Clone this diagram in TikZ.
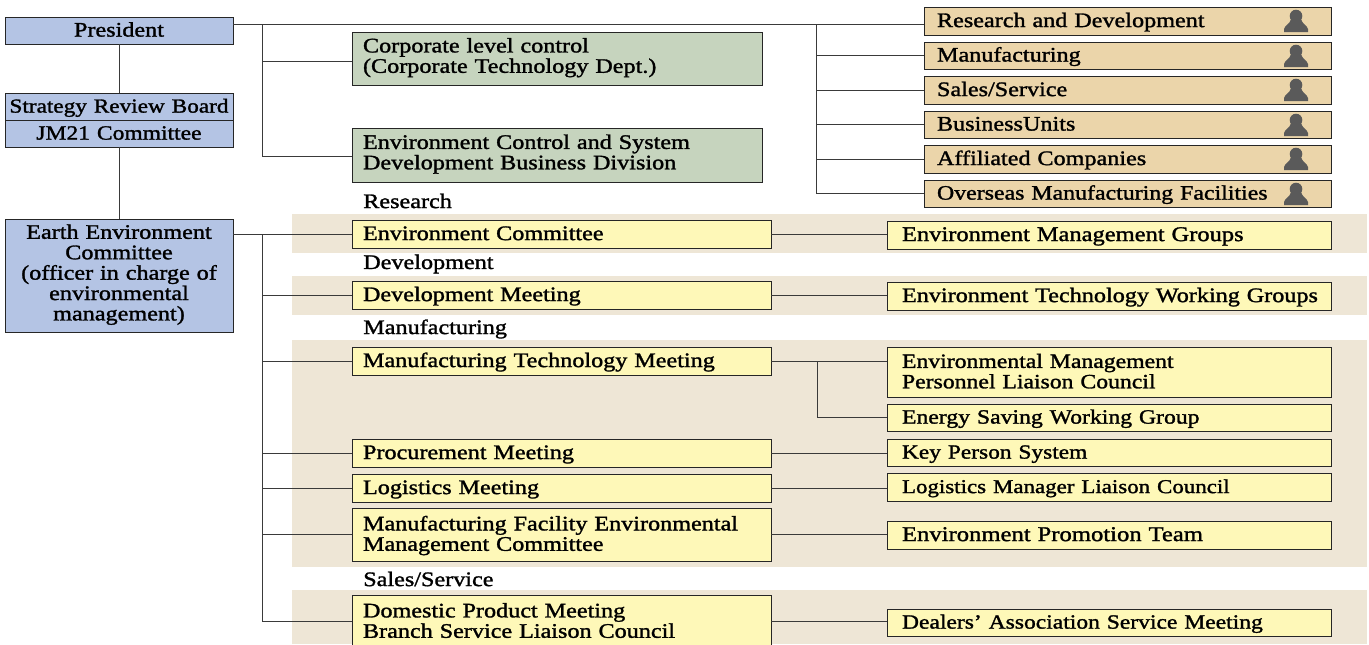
\documentclass[tikz,border=0pt]{standalone}
\usepackage{fontspec}
\setmainfont[FakeStretch=1.17,FakeBold=1.4]{Liberation Serif}
\definecolor{lineC}{HTML}{3A3A3A}
\definecolor{blueC}{HTML}{B4C4E4}
\definecolor{greenC}{HTML}{C6D4BE}
\definecolor{orangeC}{HTML}{EBD5AA}
\definecolor{yellowC}{HTML}{FEF8B8}
\definecolor{bandC}{HTML}{EEE6D6}
\definecolor{personC}{HTML}{5A5A5A}
\tikzset{
 base/.style={draw=black!85,line width=0.75pt,outer sep=0pt,inner sep=0pt,font=\fontsize{15.5}{15.3}\selectfont},
 bluebox/.style={base,fill=blueC,align=center},
 greenbox/.style={base,fill=greenC,align=left},
 orangebox/.style={base,fill=orangeC,align=left},
 yellowbox/.style={base,fill=yellowC,align=left},
 lab/.style={anchor=west,inner sep=0pt,font=\fontsize{15.5}{15.3}\selectfont},
 wire/.style={draw=lineC,line width=0.75pt},
 person/.style={fill=personC,draw=none}
}
\newcommand\tdy{0pt}
\newcommand\lft{8.25pt}
\newcommand\nl{\\\hspace*{\lft}}
\newcommand\tstrut{\rule{0pt}{\dimexpr 0.7\baselineskip+2\dimexpr\tdy\relax\relax}}
\newcommand\tight[2]{{\fontsize{#1}{15.3}\selectfont #2}}
% style, name, x1, y1, x2, y2, text
\newcommand\bx[7]{%
 \pgfmathsetmacro\wpt{(#5-#3)*0.75}%
 \pgfmathsetmacro\hpt{(#6-#4)*0.75}%
 \node[#1,minimum width=\wpt pt,minimum height=\hpt pt,text width=\wpt pt] (#2) at ({(#3+#5)/2},{(#4+#6)/2}) {\hspace*{\lft}\tstrut #7\strut};}
\newcommand\cbx[7]{%
 \pgfmathsetmacro\wpt{(#5-#3)*0.75}%
 \pgfmathsetmacro\hpt{(#6-#4)*0.75}%
 \node[#1,minimum width=\wpt pt,minimum height=\hpt pt,text width=\wpt pt] (#2) at ({(#3+#5)/2},{(#4+#6)/2}) {\tstrut #7\strut};}
\newcommand\personicon[2]{%
 \fill[person] (#1,#2+9) circle [radius=6.3];
 \fill[person] (#1-12,#2+25) -- (#1-12,#2+22) .. controls (#1-11,#2+18) and (#1-6,#2+17) .. (#1-5,#2+12) -- (#1+5,#2+12) .. controls (#1+6,#2+17) and (#1+11,#2+18) .. (#1+12,#2+22) -- (#1+12,#2+25) -- cycle;}
\begin{document}
\begin{tikzpicture}[x=0.75pt,y=-0.75pt]
\useasboundingbox (0,0) rectangle (1369,644);
\clip (0,0) rectangle (1369,644);
% bands
\fill[bandC] (292,214) rectangle (1367,253);
\fill[bandC] (292,276) rectangle (1367,315);
\fill[bandC] (292,340) rectangle (1367,567);
\fill[bandC] (292,590) rectangle (1367,644);
% left column
\renewcommand\tdy{1.5pt}
\cbx{bluebox}{pres}{5}{17}{233}{44}{President}
\cbx{bluebox}{srb}{5}{93}{233}{120}{\tight{14.9}{Strategy Review Board}}
\cbx{bluebox}{jm}{5}{120}{233}{147}{\tight{15.1}{JM21 Committee}}
\renewcommand\tdy{0pt}
\cbx{bluebox}{earth}{5}{219}{233}{332}{Earth Environment\\Committee\\(officer in charge of\\environmental\\management)}
% green
\bx{greenbox}{g1}{352}{32}{762}{85}{Corporate level control\nl(Corporate Technology Dept.)}
\bx{greenbox}{g2}{352}{128}{762}{182}{Environment Control and System\nl Development Business Division}
% orange
\renewcommand\tdy{1.5pt}
\renewcommand\lft{9.75pt}
\bx{orangebox}{o1}{924}{7}{1331}{35}{Research and Development}
\bx{orangebox}{o2}{924}{42}{1331}{69}{Manufacturing}
\bx{orangebox}{o3}{924}{76}{1331}{104}{Sales/Service}
\bx{orangebox}{o4}{924}{111}{1331}{138}{BusinessUnits}
\bx{orangebox}{o5}{924}{145}{1331}{173}{Affiliated Companies}
\bx{orangebox}{o6}{924}{180}{1331}{207}{\tight{15.3}{Overseas Manufacturing Facilities}}
\foreach \yy in {7,42,76,111,145,180} {\personicon{1296}{\yy}}
% section labels
\node[lab] (lr) at (363,201) {Research};
\node[lab] (ld) at (363,264) {Development};
\node[lab] (lm) at (363,329) {Manufacturing};
\node[lab] (ls) at (363,579) {Sales/Service};
% yellow middle
\renewcommand\lft{8.25pt}
\bx{yellowbox}{y1}{352}{220}{771}{248}{Environment Committee}
\bx{yellowbox}{y2}{352}{281}{771}{309}{Development Meeting}
\bx{yellowbox}{y3}{352}{347}{771}{375}{Manufacturing Technology Meeting}
\bx{yellowbox}{y4}{352}{439}{771}{467}{Procurement Meeting}
\bx{yellowbox}{y5}{352}{474}{771}{502}{Logistics Meeting}
\bx{yellowbox}{y6}{352}{508}{771}{561}{Manufacturing Facility Environmental\nl Management Committee}
\bx{yellowbox}{y7}{352}{595}{771}{648}{Domestic Product Meeting\nl Branch Service Liaison Council}
% yellow right
\renewcommand\lft{11.25pt}
\bx{yellowbox}{r1}{887}{221}{1331}{249}{\tight{15.7}{Environment Management Groups}}
\bx{yellowbox}{r2}{887}{282}{1331}{310}{Environment Technology Working Groups}
\bx{yellowbox}{r3}{887}{347}{1331}{397}{\tight{15.2}{Environmental Management}\nl \tight{15.2}{Personnel Liaison Council}}
\bx{yellowbox}{r4}{887}{404}{1331}{431}{\tight{15.2}{Energy Saving Working Group}}
\bx{yellowbox}{r5}{887}{439}{1331}{466}{\tight{15}{Key Person System}}
\bx{yellowbox}{r6}{887}{473}{1331}{501}{\tight{14.7}{Logistics Manager Liaison Council}}
\bx{yellowbox}{r7}{887}{521}{1331}{549}{\tight{15.8}{Environment Promotion Team}}
\bx{yellowbox}{r8}{887}{609}{1331}{636}{\tight{15.1}{Dealers' Association Service Meeting}}
% connectors
\coordinate (t) at (234,24);
\coordinate (tA) at (262,24);
\coordinate (tB) at (816,24);
\coordinate (eT) at (262,234);
\coordinate (sp) at (817,361);
\draw[wire] (pres.south) -- (srb.north);
\draw[wire] (jm.south) -- (earth.north);
\draw[wire] (pres.east |- t) -- (o1.west |- t);
\draw[wire] (tA) |- ([yshift=-1.9pt]g1.west);
\draw[wire] (tA) |- ([yshift=-0.8pt]g2.west);
\foreach \n in {o2,o3,o4,o5,o6} {\draw[wire] (tB) |- (\n.west);}
\draw[wire] (earth.east |- y1.west) -- (y1.west);
\foreach \n in {y2,y3,y4,y5,y6} {\draw[wire] (eT) |- (\n.west);}
\draw[wire] (eT) |- (y7.west);
\draw[wire] (y1.east) -- (r1.west |- y1.east);
\draw[wire] (y2.east) -- (r2.west |- y2.east);
\draw[wire] (y3.east) -- (r3.west |- y3.east);
\draw[wire] (sp) |- (r4.west);
\draw[wire] (y4.east) -- (r5.west |- y4.east);
\draw[wire] (y5.east) -- (r6.west |- y5.east);
\draw[wire] (y6.east) -- (r7.west |- y6.east);
\draw[wire] (y7.east) -- (r8.west |- y7.east);
\end{tikzpicture}
\end{document}
